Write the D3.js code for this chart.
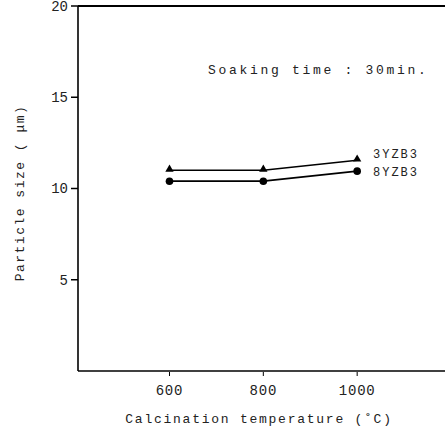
<!DOCTYPE html>
<html>
<head>
<meta charset="utf-8">
<script src="https://cdn.jsdelivr.net/npm/d3@7"></script>
<style>
	body { margin: 0; background: #fff; }
	svg text { font-family: "Liberation Mono", "DejaVu Sans Mono", monospace; fill: #222; }
</style>
</head>
<body>
<div id="chart"></div>
<script>
let temperatures = [600, 800, 1000];
let series3YZB3 = [11.0, 11.0, 11.55];
let series8YZB3 = [10.4, 10.4, 10.95];
let xTicks = [600, 800, 1000];
let yTicks = [5, 10, 15, 20];

let WIDTH = 445;
let HEIGHT = 435;

let svg = d3.select('#chart').append('svg')
	.attr('width', WIDTH)
	.attr('height', HEIGHT);

let x = d3.scaleLinear()
	.domain([405, 1200])
	.range([78, 451]);

let y = d3.scaleLinear()
	.domain([0, 20])
	.range([371, 6]);

// frame: left axis, bottom axis, top line (no right side, cut by the page)
svg.append('line')
	.attr('x1', x(405)).attr('x2', x(405))
	.attr('y1', y(20)).attr('y2', y(0))
	.attr('stroke', '#000').attr('stroke-width', 1.6);
svg.append('line')
	.attr('x1', x(405)).attr('x2', WIDTH)
	.attr('y1', y(0)).attr('y2', y(0))
	.attr('stroke', '#000').attr('stroke-width', 1.6);
svg.append('line')
	.attr('x1', x(405)).attr('x2', WIDTH)
	.attr('y1', y(20)).attr('y2', y(20))
	.attr('stroke', '#000').attr('stroke-width', 2);

// y ticks
let yAxis = svg.append('g');
yAxis.selectAll('line').data(yTicks).enter().append('line')
	.attr('x1', x(405) - 7).attr('x2', x(405))
	.attr('y1', d => y(d)).attr('y2', d => y(d))
	.attr('stroke', '#000').attr('stroke-width', 1.5);
yAxis.selectAll('text').data(yTicks).enter().append('text')
	.attr('x', x(405) - 10)
	.attr('y', d => y(d))
	.attr('dy', '0.35em')
	.attr('text-anchor', 'end')
	.style('font-size', '14px')
	.text(d => d);

// x ticks
let xAxis = svg.append('g');
xAxis.selectAll('line').data(xTicks).enter().append('line')
	.attr('x1', d => x(d)).attr('x2', d => x(d))
	.attr('y1', y(0) + 1).attr('y2', y(0) + 5)
	.attr('stroke', '#000').attr('stroke-width', 1);
xAxis.selectAll('text').data(xTicks).enter().append('text')
	.attr('x', d => x(d))
	.attr('y', 395)
	.attr('text-anchor', 'middle')
	.style('font-size', '14px')
	.style('letter-spacing', '0.8px')
	.text(d => d);

// axis titles
svg.append('text')
	.attr('x', 259)
	.attr('y', 423)
	.attr('text-anchor', 'middle')
	.style('font-size', '13px')
	.style('letter-spacing', '1.75px')
	.text('Calcination temperature (˚C)');

svg.append('text')
	.attr('transform', 'translate(24,193) rotate(-90)')
	.attr('text-anchor', 'middle')
	.style('font-size', '13px')
	.style('letter-spacing', '1.5px')
	.text('Particle size  ( μm)');

svg.append('text')
	.attr('x', 208)
	.attr('y', 74)
	.style('font-size', '13px')
	.style('letter-spacing', '2.7px')
	.text('Soaking time :  30min.');

// lines
let line = d3.line()
	.x((d, i) => x(temperatures[i]))
	.y(d => y(d));

svg.append('path')
	.datum(series3YZB3)
	.attr('d', line)
	.attr('fill', 'none')
	.attr('stroke', '#000')
	.attr('stroke-width', 1.6);

svg.append('path')
	.datum(series8YZB3)
	.attr('d', line)
	.attr('fill', 'none')
	.attr('stroke', '#000')
	.attr('stroke-width', 1.8);

// markers
let tri = d3.symbol().type(d3.symbolTriangle).size(30);
svg.selectAll('.tri').data(series3YZB3).enter().append('path')
	.attr('class', 'tri')
	.attr('transform', (d, i) => `translate(${x(temperatures[i])},${y(d) - 1})`)
	.attr('d', tri)
	.attr('fill', '#000');

svg.selectAll('.dot').data(series8YZB3).enter().append('circle')
	.attr('class', 'dot')
	.attr('cx', (d, i) => x(temperatures[i]))
	.attr('cy', d => y(d))
	.attr('r', 3.8)
	.attr('fill', '#000');

// series labels
svg.append('text')
	.attr('x', 373)
	.attr('y', y(series3YZB3[2]) - 6)
	.attr('dy', '0.35em')
	.style('font-size', '12px')
	.style('letter-spacing', '2px')
	.text('3YZB3');

svg.append('text')
	.attr('x', 373)
	.attr('y', y(series8YZB3[2]) + 1)
	.attr('dy', '0.35em')
	.style('font-size', '12px')
	.style('letter-spacing', '2px')
	.text('8YZB3');
</script>
</body>
</html>
